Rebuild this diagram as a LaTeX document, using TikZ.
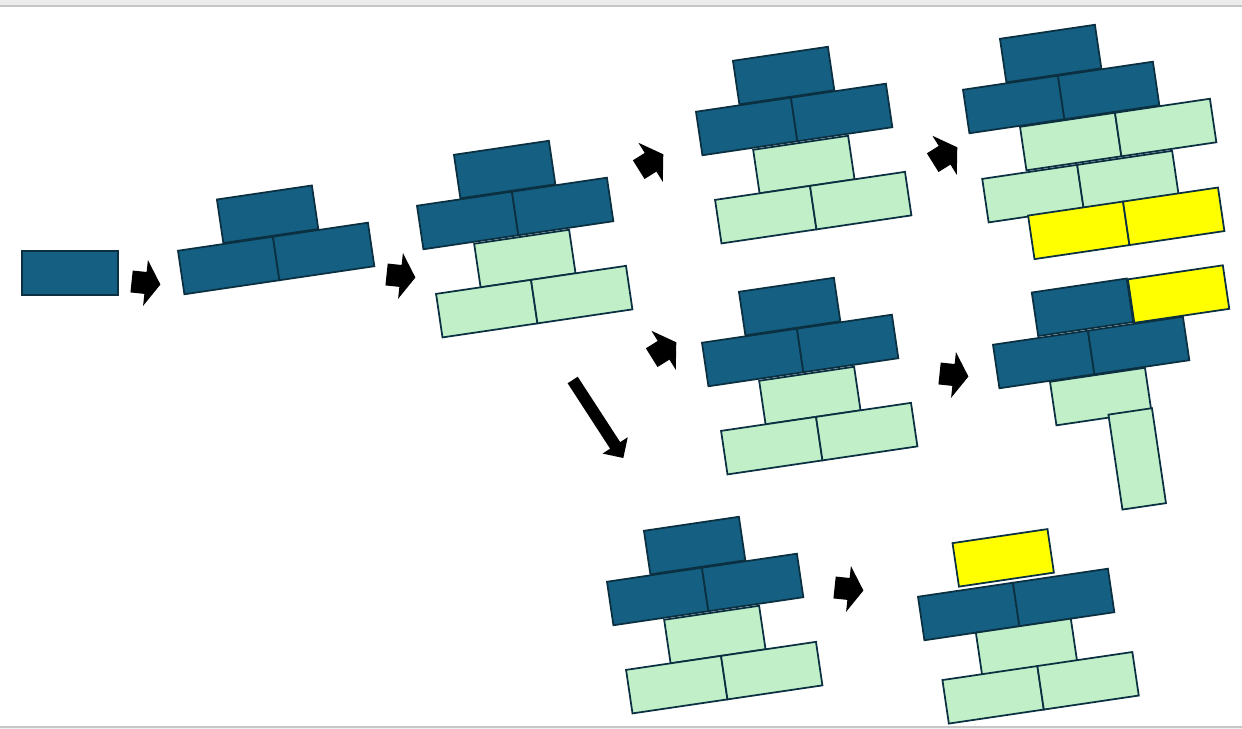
\documentclass[tikz,border=0pt]{standalone}
\usepackage{tikz}

\definecolor{brickblue}{HTML}{156082}
\definecolor{brickgreen}{HTML}{C1F0C8}
\definecolor{brickyellow}{HTML}{FFFF00}
\definecolor{brickline}{HTML}{0B3041}

% block arrow: centre x, centre y, angle, length, half shaft, half head
\newcommand{\fatarrow}[6]{%
	\fill[black, shift={(#1,#2)}, rotate=#3]
		({-#4/2},{-#5}) -- ({#4/2-15},{-#5}) -- ({#4/2-15},{-#6}) -- ({#4/2},0)
		-- ({#4/2-15},{#6}) -- ({#4/2-15},{#5}) -- ({-#4/2},{#5}) -- cycle;}

\begin{document}
\begin{tikzpicture}[x=0.02cm, y=-0.02cm,
	blk/.style={draw=brickline, line width=1pt, minimum width=1.92cm, minimum height=0.88cm, inner sep=0pt, anchor=north west},
	dk/.style={blk, fill=brickblue}, lt/.style={blk, fill=brickgreen}, yl/.style={blk, fill=brickyellow},
	stack/.style={rotate=8.4, transform shape}]
	\useasboundingbox (0,0) rectangle (1242,729);
	\fill[gray!15] (0,0) rectangle (1242,6);
	\draw[gray!45, line width=0.6pt] (0,6) -- (1242,6);
	\fill[gray!12] (0,727) rectangle (1242,729);
	\draw[gray!45, line width=0.6pt] (0,727) -- (1242,727);

	% one block
	\node[dk] (a1) at (21,250) {};

	% two on one
	\begin{scope}[shift={(177,250)}, stack]
	\node[dk] (b1) at (46,-45) {};
	\node[dk] (b2) at (0,0) {};
	\node[dk] (b3) at (96,0) {};
	\end{scope}

	% full stack
	\begin{scope}[shift={(416,205)}, stack]
	\node[dk] (c1) at (44,-45) {};
	\node[dk] (c2) at (0,0) {};
	\node[dk] (c3) at (96,0) {};
	\node[lt] (c4) at (51,46) {};
	\node[lt] (c5) at (6,90) {};
	\node[lt] (c6) at (102,90) {};
	\end{scope}

	\begin{scope}[shift={(695,111)}, stack]
	\node[dk] (d1) at (44,-45) {};
	\node[dk] (d2) at (0,0) {};
	\node[dk] (d3) at (96,0) {};
	\node[lt] (d4) at (51,46) {};
	\node[lt] (d5) at (6,90) {};
	\node[lt] (d6) at (102,90) {};
	\end{scope}

	\begin{scope}[shift={(701,342)}, stack]
	\node[dk] (e1) at (44,-45) {};
	\node[dk] (e2) at (0,0) {};
	\node[dk] (e3) at (96,0) {};
	\node[lt] (e4) at (51,46) {};
	\node[lt] (e5) at (6,90) {};
	\node[lt] (e6) at (102,90) {};
	\end{scope}

	\begin{scope}[shift={(606,581)}, stack]
	\node[dk] (f1) at (44,-45) {};
	\node[dk] (f2) at (0,0) {};
	\node[dk] (f3) at (96,0) {};
	\node[lt] (f4) at (51,46) {};
	\node[lt] (f5) at (6,90) {};
	\node[lt] (f6) at (102,90) {};
	\end{scope}

	% yellow row at the bottom
	\begin{scope}[shift={(962,89)}, stack]
	\node[dk] (g1) at (44,-45) {};
	\node[dk] (g2) at (0,0) {};
	\node[dk] (g3) at (96,0) {};
	\node[lt] (g4) at (51,45) {};
	\node[lt] (g5) at (147,45) {};
	\node[lt] (g6) at (6,91) {};
	\node[lt] (g7) at (102,91) {};
	\node[yl] (g8) at (46,134) {};
	\node[yl] (g9) at (142,134) {};
	\end{scope}

	% yellow beside the top, one block standing
	\begin{scope}[shift={(992,344)}, stack]
	\node[dk] (h1) at (46,-46) {};
	\node[yl] (h2) at (143,-45) {};
	\node[dk] (h3) at (0,0) {};
	\node[dk] (h4) at (96,0) {};
	\node[lt] (h5) at (51,45) {};
	\node[lt, minimum width=0.88cm, minimum height=1.92cm] (h6) at (104,86) {};
	\end{scope}

	% yellow on top
	\begin{scope}[shift={(917,596)}, stack]
	\node[yl] (k1) at (42,-48) {};
	\node[dk] (k2) at (0,0) {};
	\node[dk] (k3) at (96,0) {};
	\node[lt] (k4) at (52,44) {};
	\node[lt] (k5) at (12,86) {};
	\node[lt] (k6) at (108,86) {};
	\end{scope}

	% arrows
	\fatarrow{146}{283}{-6}{29}{11}{23}
	\fatarrow{401}{276}{-6}{29}{11}{23}
	\fatarrow{651}{162}{32}{29}{11}{23}
	\fatarrow{945}{155}{32}{29}{11}{23}
	\fatarrow{664}{350}{32}{29}{11}{23}
	\fatarrow{954}{375}{-6}{29}{11}{23}
	\fatarrow{849}{589}{-6}{29}{11}{23}
	\fatarrow{598}{419}{-57}{93}{6}{15}
\end{tikzpicture}
\end{document}
